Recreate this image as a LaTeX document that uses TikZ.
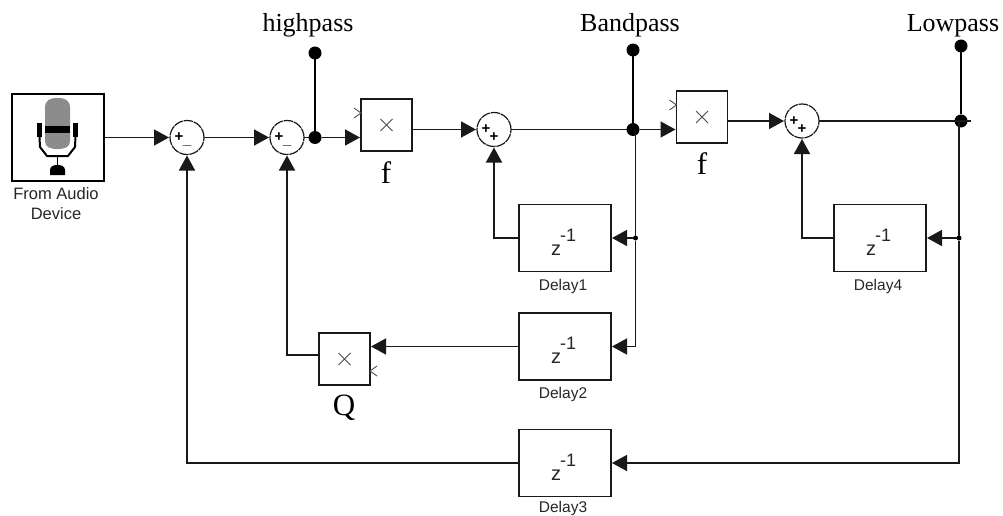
\documentclass[tikz,border=0pt]{standalone}
\usepackage{fontspec}
\setmainfont{Liberation Serif}
\newfontfamily\arialf{Liberation Sans}
\usetikzlibrary{arrows.meta,calc}
\definecolor{lineblk}{gray}{0.1}
\newcommand{\zinv}{\hspace*{-3pt}\raisebox{-17pt}[0pt][0pt]{z}\hspace{-1pt}\raisebox{-3pt}[0pt][0pt]{\fontsize{18}{20}\selectfont -1}}
\tikzset{
  x=1pt,y=-1pt,
  every node/.style={inner sep=0pt,outer sep=0pt},
  blockbox/.style={draw=lineblk,line width=1.4pt,fill=white,minimum width=92pt,minimum height=67pt},
  multbox/.style={draw=lineblk,line width=1.4pt,fill=white,minimum width=51pt,minimum height=52pt,font=\arialf},
  sumnode/.style={circle,draw=lineblk,line width=1.2pt,minimum size=34pt,dash pattern=on 9.5pt off 0.8pt},
  dotnode/.style={circle,fill=black,minimum size=13pt},
  smalldot/.style={circle,fill=black,minimum size=5pt},
  sig/.style={draw=lineblk,line width=1.6pt},
  probe/.style={draw=black,line width=2.6pt},
  arrowline/.style={sig,-{Triangle[length=15pt,width=16pt]},shorten >=1pt},
  bigtext/.style={anchor=base,font=\fontsize{#1}{30}\selectfont},
  smalltext/.style={font=\arialf\fontsize{15.5}{19}\selectfont,anchor=base,text=black!85,align=center},
  audiotext/.style={font=\arialf\fontsize{16.5}{19}\selectfont,anchor=base,text=black!85,align=center},
  ztext/.style={font=\arialf\fontsize{20}{22}\selectfont,text=black!85},
  signtext/.style={font=\arialf\bfseries\fontsize{15}{15}\selectfont},
  crossmark/.style={draw=black!70,line width=0.9pt},
}
\begin{document}
\begin{tikzpicture}
\useasboundingbox (0,0) rectangle (1003,516);
% blocks
\node[draw=black,line width=1.4pt,minimum width=92pt,minimum height=87pt] (mic) at (58,137.5) {};
\node[sumnode] (s1) at (187,137.5) {};
\node[sumnode] (s2) at (287,137.5) {};
\node[sumnode] (s3) at (494,129.5) {};
\node[sumnode] (s4) at (802,121) {};
\node[multbox] (m1) at (386.5,125) {};
\node[multbox] (m2) at (702,117) {};
\node[multbox] (mq) at (344.5,359) {};
\node[blockbox,ztext] (d1) at (565,238) {\zinv};
\node[blockbox,ztext] (d2) at (565,346.5) {\zinv};
\node[blockbox,ztext] (d3) at (565,463) {\zinv};
\node[blockbox,ztext] (d4) at (880,238) {\zinv};
% junctions
\node[dotnode] (jh) at (315,137.5) {};
\node[dotnode] (jb) at (633,129.5) {};
\node[dotnode] (jl) at (961,121) {};
\node[dotnode] (th) at (315,53) {};
\node[dotnode] (tb) at (633,50) {};
\node[dotnode] (tl) at (961,46) {};
\node[smalldot] (b1) at (635.5,238) {};
\node[smalldot] (l1) at (959,238) {};
\coordinate (bs) at (635.5,129.5);
\coordinate (ls) at (959,121);
\coordinate (lend) at (971,121);
% connectors
\draw[arrowline] (mic.east |- s1.west) -- (s1.west);
\draw[arrowline] (s1.east) -- (s2.west);
\draw[sig] (s2.east) -- (jh);
\draw[arrowline] (jh) -- (jh -| m1.west);
\draw[arrowline] (m1.east |- s3.west) -- (s3.west);
\draw[sig] (s3.east) -- (jb);
\draw[arrowline] (jb) -- (jb -| m2.west);
\draw[arrowline] (m2.east |- s4.west) -- (s4.west);
\draw[sig] (s4.east) -- (lend);
\draw[probe] (jh) -- (th);
\draw[probe] (jb) -- (tb);
\draw[probe] (jl) -- (tl);
\draw[sig] (bs) -- (b1);
\draw[sig] (ls) -- (l1);
\draw[arrowline] (b1) -- (d1.east);
\draw[arrowline] (b1) |- (d2.east);
\draw[arrowline] (l1) -- (d4.east);
\draw[arrowline] (l1) |- (d3.east);
\draw[arrowline] (d1.west) -| (s3.south);
\draw[arrowline] (d4.west) -| (s4.south);
\draw[arrowline] (d3.west) -| (s1.south);
\draw[arrowline] (d2.west) -- (d2.west -| mq.east);
\draw[arrowline] ([yshift=4pt]mq.west) -| (s2.south);
% sum signs
\foreach \n/\a/\b in {s1/+/\_,s2/+/\_,s3/+/+,s4/+/+}{
  \node[signtext] at ([shift={(-8,0)}]\n.center) {\a};
  \node[signtext] at ([shift={(0,8)}]\n.center) {\b};
}
% product crosses
\foreach \n in {m1,m2,mq}{
  \draw[crossmark] ([shift={(-6,-6)}]\n.center) -- ([shift={(6,6)}]\n.center);
  \draw[crossmark] ([shift={(-6,6)}]\n.center) -- ([shift={(6,-6)}]\n.center);
}
% port chevrons
\draw[crossmark] ([shift={(-7,-5)}]m1.west |- 0,113) -- (m1.west |- 0,113) -- ([shift={(-7,5)}]m1.west |- 0,113);
\draw[crossmark] ([shift={(-7,-5)}]m2.west |- 0,105) -- (m2.west |- 0,105) -- ([shift={(-7,5)}]m2.west |- 0,105);
\draw[crossmark] ([shift={(7,-5)}]mq.east |- 0,371) -- (mq.east |- 0,371) -- ([shift={(7,5)}]mq.east |- 0,371);
% microphone icon
\fill[gray!90] (45,108) .. controls (45,100) and (50,98) .. (57.5,98) .. controls (65,98) and (70,100) .. (70,108) -- (70,141) .. controls (70,147) and (65,149) .. (57.5,149) .. controls (50,149) and (45,147) .. (45,141) -- cycle;
\fill[black] (45,126) rectangle (70,133);
\fill[black] (37,123) rectangle (42,137);
\fill[black] (73,123) rectangle (78,137);
\draw[black,line width=2pt] (39.5,137) -- (40,147) -- (47,156) -- (68,156) -- (75,147) -- (75.5,137);
\draw[black,line width=1.6pt] (57.5,156) -- (57.5,166);
\fill[black] (50,175) -- (50,170) .. controls (50,166) and (54,165) .. (57.5,165) .. controls (61,165) and (65,166) .. (65,170) -- (65,175) -- cycle;
% labels
\node[bigtext=26] (lh) at (308,32) {highpass};
\node[bigtext=26] (lb) at (630,32) {Bandpass};
\node[bigtext=26] (ll) at (953,32) {Lowpass};
\node[bigtext=31] (lf1) at (386,183) {f};
\node[bigtext=31] (lf2) at (702,174) {f};
\node[bigtext=31] (lq) at (344,415) {Q};
\node[audiotext] (lm1) at (56,199) {From Audio};
\node[audiotext] (lm2) at (56,219) {Device};
\node[smalltext] (l1t) at (563,290) {Delay1};
\node[smalltext] (l2t) at (563,398) {Delay2};
\node[smalltext] (l3t) at (563,512) {Delay3};
\node[smalltext] (l4t) at (878,290) {Delay4};
\end{tikzpicture}
\end{document}
